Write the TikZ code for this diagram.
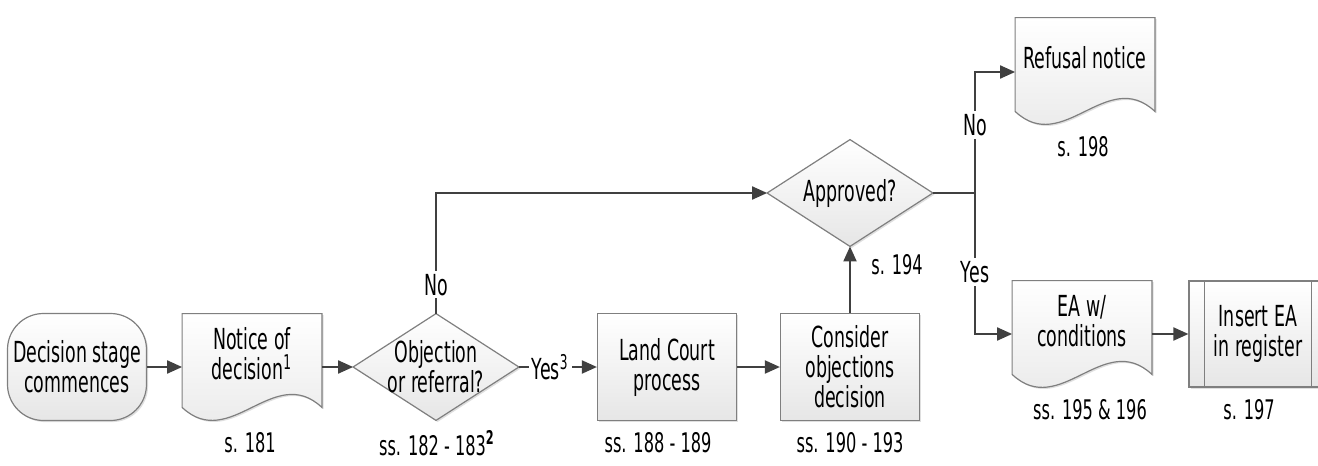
\documentclass[tikz,border=0pt]{standalone}
\usepackage{fontspec}
\setmainfont{DejaVu Sans}[FakeStretch=0.6]
\usetikzlibrary{calc,arrows.meta,shadows,backgrounds}
\definecolor{line}{HTML}{404040}
\definecolor{edge}{HTML}{7F7F7F}
\definecolor{shade}{HTML}{E6E6E6}
\tikzset{
  box/.style={draw=edge, line width=0.6pt, top color=white, bottom color=shade,
    drop shadow={shadow xshift=0.8pt, shadow yshift=-0.8pt, opacity=0.25}},
  txt/.style={font=\fontsize{14.5}{15}\selectfont, align=center, inner sep=0pt},
  term/.style={txt, box, rounded corners=18pt, minimum width=69.5pt, minimum height=53.5pt},
  proc/.style={txt, box, minimum width=69.5pt, minimum height=53.5pt},
  sub/.style={proc, minimum width=69pt, minimum height=53pt},
  docu/.style={txt, minimum width=69.5pt, minimum height=40pt},
  dec/.style={txt, minimum width=82.5pt, minimum height=53pt},
  conn/.style={draw=line, line width=1pt, -{Triangle[length=7.5pt,width=6.5pt]}},
  wire/.style={draw=line, line width=1pt},
  ref/.style={font=\fontsize{13.5}{14}\selectfont, inner sep=1pt},
  tag/.style={font=\fontsize{14.5}{14}\selectfont, fill=white, inner sep=1.5pt},
}
% document shape: wavy bottom below the text node
\newcommand\docshape[1]{%
  \path[box] (#1.north west) -- (#1.north east) -- ([yshift=-6.5pt]#1.south east)
    .. controls ([xshift=-24pt,yshift=16pt]#1.south east) and ([xshift=24pt,yshift=-29pt]#1.south west)
    .. ([yshift=-6.5pt]#1.south west) -- cycle;}
\newcommand\decshape[1]{%
  \path[box] (#1.north) -- (#1.east) -- (#1.south) -- (#1.west) -- cycle;}

\begin{document}
\begin{tikzpicture}[x=0.5pt, y=-0.5pt]
  \useasboundingbox (0,0) rectangle (1318,466);

  \node[term] (start) at (77,367) {Decision stage\\commences};
  \node[docu] (notice) at (252,354) {Notice of\\decision\textsuperscript{1}};
  \node[dec] (obj) at (436,367) {Objection\\or referral?};
  \node[proc] (land) at (667,367) {Land Court\\process};
  \node[proc] (consider) at (850,367) {Consider\\objections\\decision};
  \node[dec] (approved) at (850,193) {Approved?};
  \coordinate (junc) at (975,193);
  \node[docu] (refusal) at (1085,58) {Refusal notice};
  \node[docu] (ea) at (1082,321) {EA w/\\conditions};
  \node[sub] (insert) at (1258,334) {Insert EA\\in register};
  \draw[draw=edge, line width=0.6pt] ([xshift=8pt]insert.north west) -- ([xshift=8pt]insert.south west);
  \draw[draw=edge, line width=0.6pt] ([xshift=-8pt]insert.north east) -- ([xshift=-8pt]insert.south east);

  \begin{scope}[on background layer]
    \docshape{notice}
    \docshape{refusal}
    \docshape{ea}
    \decshape{obj}
    \decshape{approved}
  \end{scope}

  % section references
  \node[ref] (s181) at (250,443) {s. 181};
  \node[ref] (s182) at (437,443) {ss. 182 - 183\textsuperscript{\textbf{2}}};
  \node[ref] (s188) at (658,443) {ss. 188 - 189};
  \node[ref] (s190) at (850,443) {ss. 190 - 193};
  \node[ref] (s194) at (897,265) {s. 194};
  \node[ref] (s198) at (1083,147) {s. 198};
  \node[ref] (s195) at (1090,410) {ss. 195 \& 196};
  \node[ref] (s197) at (1249,410) {s. 197};

  \draw[conn] (start) -- (start -| notice.west);
  \draw[conn] (notice.east |- obj) -- (obj.west);
  \draw[conn] (obj.east) -- node[tag, pos=0.4] {Yes\textsuperscript{3}} (land.west);
  \draw[conn] (land) -- (consider);
  \draw[conn] (consider) -- (approved.south);
  \draw[conn] (obj.north) |- node[tag, pos=0.12] {No} (approved.west);
  \draw[wire] (approved.east) -- (junc);
  \draw[conn] (junc) |- node[tag, pos=0.28] {No} ([yshift=-7pt]refusal.west);
  \draw[conn] (junc) |- node[tag, pos=0.28] {Yes} (ea.west |- insert);
  \draw[conn] (ea.east |- insert) -- (insert);
\end{tikzpicture}
\end{document}
